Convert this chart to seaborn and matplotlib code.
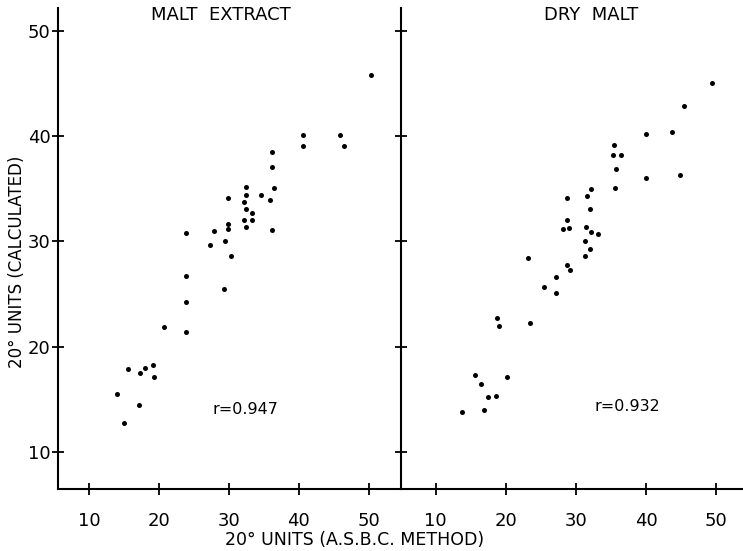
import matplotlib
matplotlib.use("Agg")
import matplotlib.pyplot as plt
import seaborn as sns
import pandas as pd

# ---- data ----
malt_extract_asbc = [50.4, 40.6, 40.6, 45.9, 46.4, 36.2, 36.2, 32.5, 36.4, 32.5,
                     34.6, 29.8, 35.9, 32.1, 32.5, 33.3, 32.2, 33.3, 32.5, 29.8,
                     29.8, 36.2, 23.8, 27.8, 29.5, 27.3, 30.3, 23.8, 29.3, 23.9,
                     20.7, 23.8, 15.5, 18.0, 19.1, 17.2, 19.2, 13.9, 17.1, 15.0]
malt_extract_calc = [45.8, 40.1, 39.1, 40.1, 39.1, 38.5, 37.1, 35.2, 35.1, 34.4,
                     34.4, 34.1, 33.9, 33.7, 33.1, 32.7, 32.0, 32.0, 31.4, 31.7,
                     31.2, 31.1, 30.8, 31.0, 30.0, 29.7, 28.6, 26.7, 25.5, 24.3,
                     21.9, 21.4, 17.9, 18.0, 18.3, 17.5, 17.1, 15.5, 14.5, 12.8]

dry_malt_asbc = [49.4, 45.4, 40.0, 43.7, 35.4, 35.3, 36.4, 35.7, 40.0, 44.8,
                 35.6, 32.2, 31.6, 28.7, 32.0, 28.7, 28.1, 29.0, 31.5, 32.1,
                 33.2, 31.3, 32.0, 31.3, 23.2, 28.7, 29.1, 27.1, 25.4, 27.1,
                 18.7, 19.1, 23.4, 15.6, 16.4, 20.2, 17.5, 18.6, 16.9, 13.7]
dry_malt_calc = [45.0, 42.9, 40.2, 40.4, 39.2, 38.2, 38.2, 36.9, 36.0, 36.3,
                 35.1, 35.0, 34.3, 34.1, 33.1, 32.0, 31.2, 31.3, 31.4, 30.9,
                 30.7, 30.0, 29.3, 28.6, 28.4, 27.8, 27.3, 26.6, 25.7, 25.1,
                 22.7, 22.0, 22.3, 17.3, 16.5, 17.1, 15.2, 15.3, 14.0, 13.8]

panel_titles = ["MALT  EXTRACT", "DRY  MALT"]
r_labels = ["r=0.947", "r=0.932"]
tick_values = [10, 20, 30, 40, 50]

df_extract = pd.DataFrame({"asbc": malt_extract_asbc, "calc": malt_extract_calc})
df_dry = pd.DataFrame({"asbc": dry_malt_asbc, "calc": dry_malt_calc})

sns.set_style("white")
plt.rcParams["font.family"] = ["DejaVu Sans"]
plt.rcParams["text.color"] = "black"

W, H = 743, 551
fig = plt.figure(figsize=(W / 100, H / 100), dpi=100)
fig.patch.set_facecolor("white")

left_px, div_px, right_px = 57.5, 401.3, 743
bottom_px, top_px = 489.3, 8
b = 1 - bottom_px / H
h = (bottom_px - top_px) / H
ax1 = fig.add_axes([left_px / W, b, (div_px - left_px) / W, h])
ax2 = fig.add_axes([div_px / W, b, (right_px - div_px) / W, h])

sns.scatterplot(data=df_extract, x="asbc", y="calc", ax=ax1, color="black",
                s=13, linewidth=0, zorder=3)
sns.scatterplot(data=df_dry, x="asbc", y="calc", ax=ax2, color="black",
                s=13, linewidth=0, zorder=3)

ax1.set_xlim(5.45, 54.67)
ax2.set_xlim(5.09, 53.84)
for ax in (ax1, ax2):
    ax.set_ylim(6.49, 52.15)
    ax.set_xticks(tick_values)
    ax.set_yticks(tick_values)
    ax.set_xlabel("")
    ax.set_ylabel("")
    ax.set_facecolor("none")
    for side in ("top", "right"):
        ax.spines[side].set_visible(False)
    for side in ("left", "bottom"):
        ax.spines[side].set_linewidth(1.5)
        ax.spines[side].set_color("black")
    ax.tick_params(axis="both", direction="inout", length=9, width=1.3,
                   color="black", labelsize=13, labelcolor="black",
                   bottom=True, left=True, top=False, right=False)
    ax.tick_params(axis="x", pad=12)
    ax.tick_params(axis="y", pad=0.5)

ax2.tick_params(axis="y", labelleft=False)

# panel titles
ax1.text(28.9, 51.5, panel_titles[0], ha="center", va="center", fontsize=13,
         color="black")
ax2.text(32.2, 51.5, panel_titles[1], ha="center", va="center", fontsize=13,
         color="black")

# correlation labels
ax1.text(32.3, 14.1, r_labels[0], ha="center", va="center", fontsize=11.5,
         color="black")
ax2.text(37.4, 14.35, r_labels[1], ha="center", va="center", fontsize=11.5,
         color="black")

# axis labels
fig.text(355 / W, 1 - 540 / H, "20° UNITS (A.S.B.C. METHOD)", ha="center",
         va="center", fontsize=12.5, color="black")
fig.text(17.5 / W, 1 - 262 / H, "20° UNITS (CALCULATED)", ha="center",
         va="center", rotation=90, fontsize=12, color="black")

fig.savefig("out.png", dpi=100, facecolor="white")
